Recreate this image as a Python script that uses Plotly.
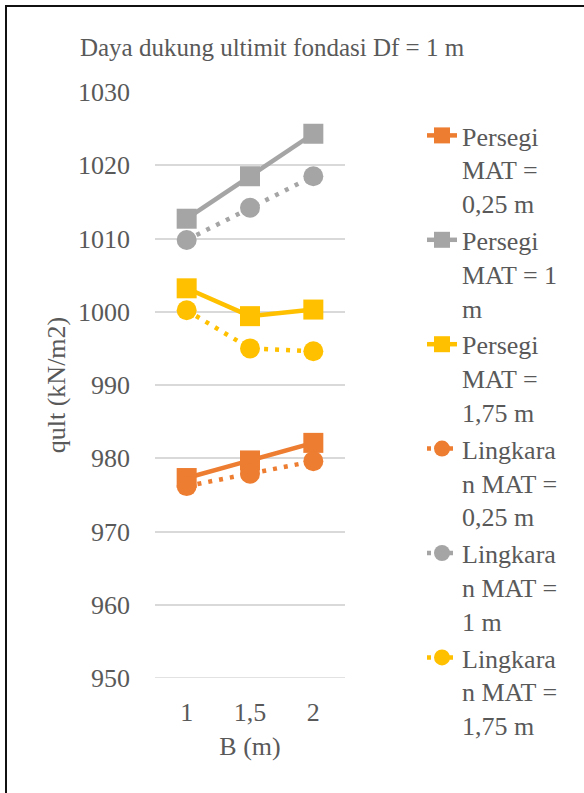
import plotly.graph_objects as go

# Foundation width B (m) on the category axis
b_labels = ["1", "1,5", "2"]

# Ultimate bearing capacity qult (kN/m2), square footing (Persegi)
persegi_025 = [977.3, 979.7, 982.1]
persegi_100 = [1012.7, 1018.5, 1024.3]
persegi_175 = [1003.2, 999.4, 1000.3]

# Ultimate bearing capacity qult (kN/m2), circular footing (Lingkaran)
lingkaran_025 = [976.2, 977.9, 979.6]
lingkaran_100 = [1009.8, 1014.2, 1018.5]
lingkaran_175 = [1000.2, 995.0, 994.6]

y_ticks = [950, 960, 970, 980, 990, 1000, 1010, 1020, 1030]

ORANGE = "#ED7D31"
GRAY = "#A5A5A5"
YELLOW = "#FFC000"
TEXT = "#595959"
FONT = "Times New Roman, Liberation Serif, serif"
FS = 26

series = [
    ("Persegi<br>MAT =<br>0,25 m", persegi_025, ORANGE, "square", "solid"),
    ("Persegi<br>MAT = 1<br>m", persegi_100, GRAY, "square", "solid"),
    ("Persegi<br>MAT =<br>1,75 m", persegi_175, YELLOW, "square", "solid"),
    ("Lingkara<br>n MAT =<br>0,25 m", lingkaran_025, ORANGE, "circle", "4px,7px"),
    ("Lingkara<br>n MAT =<br>1 m", lingkaran_100, GRAY, "circle", "4px,7px"),
    ("Lingkara<br>n MAT =<br>1,75 m", lingkaran_175, YELLOW, "circle", "4px,7px"),
]

fig = go.Figure()
for name, vals, color, symbol, dash in series:
    fig.add_trace(go.Scatter(
        x=b_labels, y=vals, name=name, mode="lines+markers",
        line=dict(color=color, width=4.5, dash=dash),
        marker=dict(symbol=symbol, size=20, color=color,
                    line=dict(width=0)),
    ))

W, H = 584, 793
# outer plotting region (tall enough to hold the whole legend)
L, R, T, B = 155, 239, 60, 40
pw, ph = W - L - R, H - T - B
# pixel rows of the value axis (top = 1030, bottom = 950)
AX_TOP, AX_BOT = 92, 678


def px_x(x):
    return (x - L) / pw


def px_y(y):
    return 1 - (y - T) / ph


font = dict(family=FONT, size=FS, color=TEXT)

fig.update_layout(
    template="none",
    width=W, height=H,
    margin=dict(l=L, r=R, t=T, b=B, pad=0),
    paper_bgcolor="white", plot_bgcolor="white",
    font=font,
    title=dict(text="Daya dukung ultimit fondasi Df = 1 m",
               x=px_x(272), xref="paper", xanchor="center",
               y=1 - 47 / H, yanchor="middle",
               font=dict(family=FONT, size=25, color=TEXT)),
    xaxis=dict(
        type="category", range=[-0.5, 2.5],
        showgrid=False, showline=False, zeroline=False,
        ticks="", ticklabelstandoff=16, tickfont=font,
        title=dict(text="B (m)", standoff=10, font=font),
    ),
    yaxis=dict(
        domain=[px_y(AX_BOT), px_y(AX_TOP)],
        range=[950, 1030], tickvals=y_ticks,
        showgrid=True, gridcolor="#D9D9D9", gridwidth=1.5,
        zeroline=False, showline=False, ticks="",
        ticklabelstandoff=24, tickfont=font,
        title=dict(text="qult (kN/m2)", standoff=4, font=font),
    ),
    legend=dict(
        x=px_x(422), xanchor="left",
        y=px_y(112), yanchor="top",
        font=font, valign="top",
        tracegroupgap=0, itemwidth=30,
        bgcolor="rgba(0,0,0,0)",
    ),
    showlegend=True,
    shapes=[
        # line at the bottom of the plot (value 950)
        dict(type="line", xref="paper", yref="y", x0=0, x1=1,
             y0=950, y1=950, line=dict(color="#D9D9D9", width=1.5)),
        # chart frame
        dict(type="rect", xref="paper", yref="paper",
             x0=px_x(6), x1=px_x(W + 10), y0=px_y(H + 10), y1=px_y(6),
             line=dict(color="#111111", width=2), layer="above"),
    ],
)

fig.write_html("out.html")
